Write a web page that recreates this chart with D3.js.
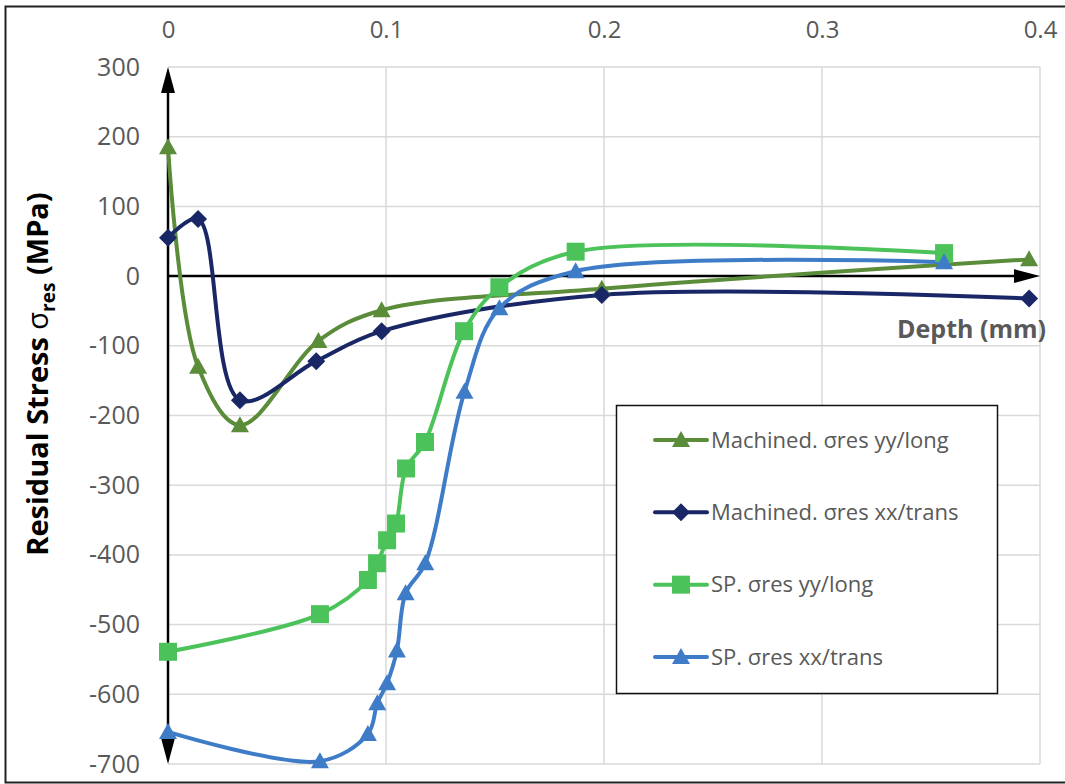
<!DOCTYPE html>
<html>
<head>
<meta charset="utf-8">
<script src="https://cdn.jsdelivr.net/npm/d3@7/dist/d3.min.js"></script>
<style>
  html, body { margin: 0; padding: 0; background: #fff; }
  svg { display: block; }
  text { font-family: "Open Sans", "Noto Sans", "Liberation Sans", sans-serif; }
</style>
</head>
<body>
<svg id="chart" width="1065" height="784"></svg>
<script>
// Depth (mm) and residual stress (MPa) for each measurement series
const machYyDepth  = [0, 0.0138, 0.033, 0.069, 0.098, 0.199, 0.395];
const machYyStress = [185, -130, -214, -93, -49, -18, 24];

const machXxDepth  = [0, 0.0138, 0.033, 0.068, 0.098, 0.199, 0.395];
const machXxStress = [55, 82, -178, -122, -79, -27, -32];

const spYyDepth  = [0, 0.0697, 0.0917, 0.0959, 0.1005, 0.1046, 0.1092, 0.1179, 0.1358, 0.152, 0.187, 0.356];
const spYyStress = [-539, -485, -436, -412, -379, -355, -276, -238, -79, -16, 35, 33];

const spXxDepth  = [0, 0.0697, 0.0917, 0.096, 0.1005, 0.105, 0.109, 0.118, 0.136, 0.152, 0.187, 0.356];
const spXxStress = [-654, -696, -657, -613, -584, -537, -455, -412, -166, -46, 7, 20];

const seriesNames  = ["Machined. σres yy/long", "Machined. σres xx/trans", "SP. σres yy/long", "SP. σres xx/trans"];
const seriesColors = ["#5b8c3a", "#1a2766", "#4cc35a", "#3f7cc8"];
const seriesShapes = ["triangle", "diamond", "square", "triangle"];

const xTicks = [0, 0.1, 0.2, 0.3, 0.4];
const yTicks = [300, 200, 100, 0, -100, -200, -300, -400, -500, -600, -700];

const series = [
  { depth: machYyDepth, stress: machYyStress },
  { depth: machXxDepth, stress: machXxStress },
  { depth: spYyDepth,   stress: spYyStress },
  { depth: spXxDepth,   stress: spXxStress }
].map((s, i) => ({
  name: seriesNames[i], color: seriesColors[i], shape: seriesShapes[i],
  points: s.depth.map((d, j) => ({ x: d, y: s.stress[j] }))
}));

const svg = d3.select("#chart");
const x = d3.scaleLinear().domain([0, 0.4]).range([168, 1040]);
const y = d3.scaleLinear().domain([-700, 300]).range([764, 67]);
const textGray = "#595959";

// outer chart frame
svg.append("rect")
  .attr("x", 5.5).attr("y", 6.5).attr("width", 1070).attr("height", 776)
  .attr("fill", "none").attr("stroke", "#222").attr("stroke-width", 2);

// gridlines
const grid = svg.append("g").attr("stroke", "#d9d9d9").attr("stroke-width", 1.5);
grid.selectAll("line.h").data(yTicks).join("line")
  .attr("x1", x(0)).attr("x2", x(0.4))
  .attr("y1", d => y(d)).attr("y2", d => y(d));
grid.selectAll("line.v").data(xTicks.filter(d => d > 0)).join("line")
  .attr("x1", d => x(d)).attr("x2", d => x(d))
  .attr("y1", y(300)).attr("y2", y(-700));

// top (depth) axis labels
const xAxis = d3.axisTop(x).tickValues(xTicks).tickSize(0).tickPadding(0)
  .tickFormat(d => d === 0 ? "0" : d3.format(".1f")(d));
const gx = svg.append("g").attr("transform", "translate(0,38)").call(xAxis);
gx.select(".domain").remove();
gx.selectAll("text").attr("fill", textGray).attr("font-size", 24)
  .attr("font-family", "'Open Sans', sans-serif");

// left (stress) axis labels, plain hyphen for negatives
const yAxis = d3.axisLeft(y).tickValues(yTicks).tickSize(0).tickPadding(0)
  .tickFormat(d => String(d));
const gy = svg.append("g").attr("transform", "translate(140,0)").call(yAxis);
gy.select(".domain").remove();
gy.selectAll("text").attr("fill", textGray).attr("font-size", 25)
  .attr("font-family", "'Open Sans', sans-serif");

// axis lines through the origin
svg.append("line")
  .attr("x1", x(0)).attr("x2", x(0))
  .attr("y1", y(-700) - 20).attr("y2", y(300) + 20)
  .attr("stroke", "#000").attr("stroke-width", 2.5);
svg.append("line")
  .attr("x1", x(0)).attr("x2", x(0.4) - 20)
  .attr("y1", y(0)).attr("y2", y(0))
  .attr("stroke", "#000").attr("stroke-width", 2.5);

// arrowheads at the axis ends
const arrows = [
  { tx: x(0), ty: y(300), rot: -90 },
  { tx: x(0), ty: y(-700), rot: 90 },
  { tx: x(0.4), ty: y(0), rot: 0 }
];
svg.append("g").selectAll("path").data(arrows).join("path")
  .attr("transform", d => `translate(${d.tx},${d.ty}) rotate(${d.rot})`)
  .attr("d", "M0,0 L-26,-7 L-26,7 Z").attr("fill", "#000");

// axis titles
svg.append("text")
  .attr("x", 1046).attr("y", 338).attr("text-anchor", "end")
  .attr("font-size", 25).attr("font-weight", "bold").attr("fill", textGray)
  .text("Depth (mm)");

const yTitle = svg.append("text")
  .attr("transform", "translate(48,374) rotate(-90)")
  .attr("text-anchor", "middle")
  .attr("font-size", 29).attr("font-weight", "bold").attr("fill", "#000");
yTitle.append("tspan").text("Residual Stress ");
yTitle.append("tspan").attr("font-weight", "normal").text("σ");
yTitle.append("tspan").attr("font-size", 19).attr("dy", 7).text("res");
yTitle.append("tspan").attr("dy", -7).text(" (MPa)");

// marker shapes
function markerPath(shape) {
  if (shape === "triangle") return "M0,-9 L9,7 L-9,7 Z";
  if (shape === "diamond") return "M0,-9 L9,0 L0,9 L-9,0 Z";
  return "M-9,-9 L9,-9 L9,9 L-9,9 Z";
}

const line = d3.line().x(d => x(d.x)).y(d => y(d.y)).curve(d3.curveCatmullRom.alpha(0.5));

const plot = svg.append("g");
series.forEach(s => {
  plot.append("path").datum(s.points)
    .attr("d", line).attr("fill", "none")
    .attr("stroke", s.color).attr("stroke-width", 4).attr("stroke-linejoin", "round");
});
series.forEach(s => {
  plot.append("g").selectAll("path").data(s.points).join("path")
    .attr("transform", d => `translate(${x(d.x)},${y(d.y)})`)
    .attr("d", markerPath(s.shape)).attr("fill", s.color);
});

// legend
const lg = svg.append("g");
lg.append("rect").attr("x", 616.5).attr("y", 405.5).attr("width", 381).attr("height", 288)
  .attr("fill", "#fff").attr("stroke", "#111").attr("stroke-width", 1.5);
const rowY = d3.scalePoint().domain(seriesNames).range([440, 657]);
series.forEach(s => {
  const cy = rowY(s.name);
  lg.append("line").attr("x1", 655).attr("x2", 707).attr("y1", cy).attr("y2", cy)
    .attr("stroke", s.color).attr("stroke-width", 4).attr("stroke-linecap", "round");
  lg.append("path").attr("transform", `translate(681,${cy})`)
    .attr("d", markerPath(s.shape)).attr("fill", s.color);
  lg.append("text").attr("x", 711).attr("y", cy).attr("dy", "0.35em")
    .attr("font-size", 22).attr("fill", textGray).text(s.name);
});
</script>
</body>
</html>
